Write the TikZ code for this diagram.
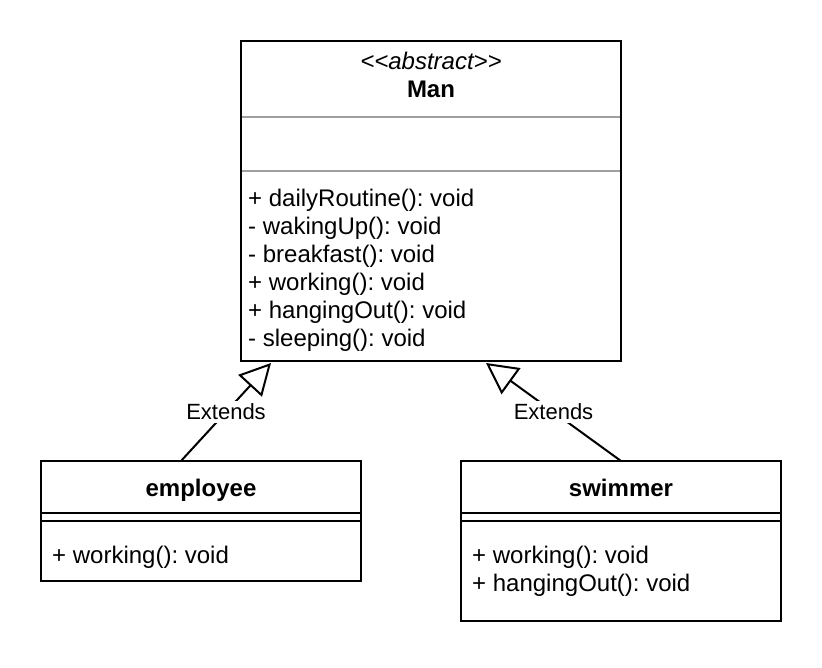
\documentclass[tikz,border=0pt]{standalone}
\usepackage{fontspec}
\setmainfont{Liberation Sans}
\usetikzlibrary{arrows.meta,positioning}
\frenchspacing

\tikzstyle{classbox} = [rectangle, draw, line width=2pt, inner sep=0pt, outer sep=0pt, anchor=north west]
\tikzstyle{member} = [anchor=base west, inner sep=0pt, font=\fontsize{24}{28}\selectfont]
\tikzstyle{classname} = [anchor=base, inner sep=0pt, font=\fontsize{24}{28}\selectfont]
\tikzstyle{divider} = [draw, line width=2pt, color=gray!75]
\tikzstyle{rule} = [draw, line width=2pt]
\tikzstyle{extends} = [draw, line width=2pt, -{Triangle[open, length=31pt, width=32pt]}]
\tikzstyle{extlabel} = [fill=white, inner sep=3pt, font=\fontsize{22}{26}\selectfont]

\begin{document}
\begin{tikzpicture}[x=1pt, y=-1pt]
    \useasboundingbox (0,0) rectangle (822,668);

    % abstract class
    \node[classbox, minimum width=380pt, minimum height=320pt] (man) at (241,41) {};
    \node[classname] (stereo) at (431,70) {\itshape <\kern0pt<abstract>\kern0pt>};
    \node[classname, below=0pt of stereo.base, anchor=base, yshift=-28pt] (manName) {\bfseries Man};
    \draw[divider] ([xshift=1pt, yshift=-76pt]man.north west) -- ([xshift=-1pt, yshift=-76pt]man.north east);
    \draw[divider] ([xshift=1pt, yshift=-130pt]man.north west) -- ([xshift=-1pt, yshift=-130pt]man.north east);
    \node[member] (m1) at (248,207) {+ dailyRoutine(): void};
    \node[member] (m2) at ([yshift=-28pt]m1.base west) {- wakingUp(): void};
    \node[member] (m3) at ([yshift=-28pt]m2.base west) {- breakfast(): void};
    \node[member] (m4) at ([yshift=-28pt]m3.base west) {+ working(): void};
    \node[member] (m5) at ([yshift=-28pt]m4.base west) {+ hangingOut(): void};
    \node[member] (m6) at ([yshift=-28pt]m5.base west) {- sleeping(): void};

    % employee
    \node[classbox, minimum width=320pt, minimum height=120pt] (employee) at (41,461) {};
    \node[classname] (empName) at (201,496) {\bfseries employee};
    \draw[rule] ([yshift=-52pt]employee.north west) -- ([yshift=-52pt]employee.north east);
    \draw[rule] ([yshift=-60pt]employee.north west) -- ([yshift=-60pt]employee.north east);
    \node[member] (e1) at (52,563) {+ working(): void};

    % swimmer
    \node[classbox, minimum width=320pt, minimum height=160pt] (swimmer) at (461,461) {};
    \node[classname] (swimName) at (621,496) {\bfseries swimmer};
    \draw[rule] ([yshift=-52pt]swimmer.north west) -- ([yshift=-52pt]swimmer.north east);
    \draw[rule] ([yshift=-60pt]swimmer.north west) -- ([yshift=-60pt]swimmer.north east);
    \node[member] (s1) at (472,563) {+ working(): void};
    \node[member] (s2) at ([yshift=-28pt]s1.base west) {+ hangingOut(): void};

    % lines
    \coordinate (empTop) at (181,461);
    \coordinate (swimTop) at (621,461);
    \coordinate (manLeft) at (271,363);
    \coordinate (manRight) at (486,363);
    \draw[extends] (empTop) -- node[extlabel] {Extends} (manLeft);
    \draw[extends] (swimTop) -- node[extlabel] {Extends} (manRight);
\end{tikzpicture}
\end{document}
